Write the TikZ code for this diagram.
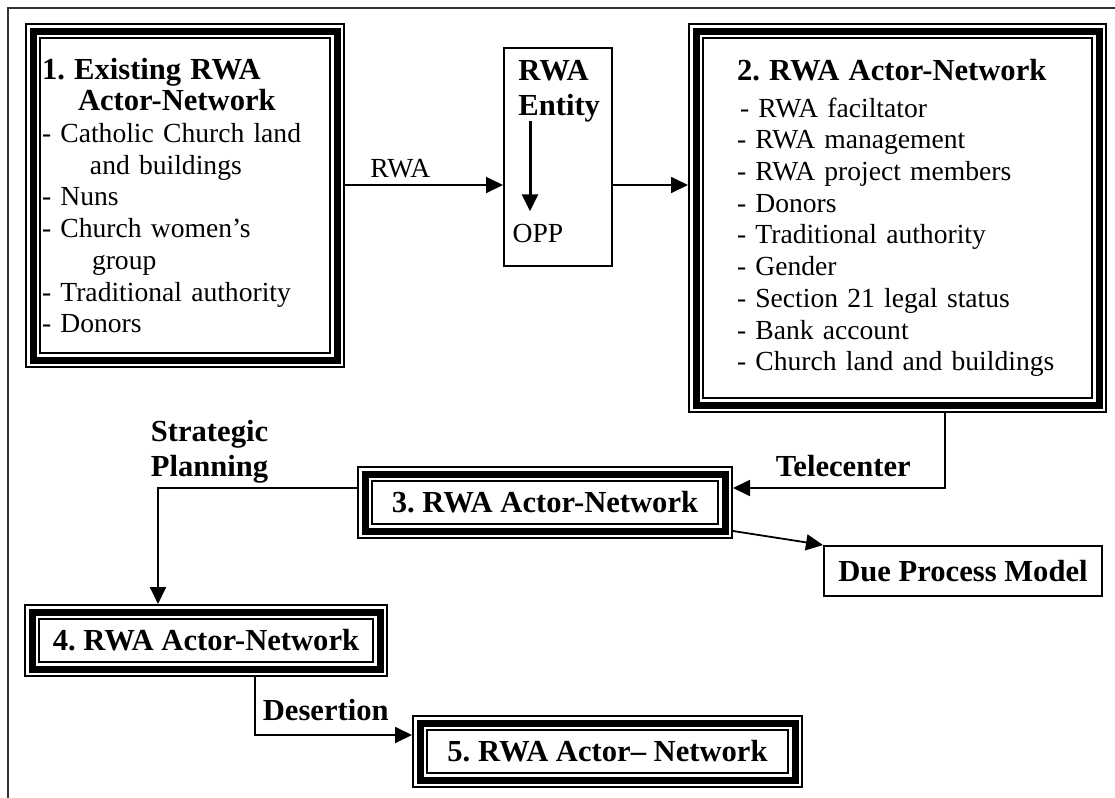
\documentclass[tikz,border=0pt]{standalone}
\usepackage{fontspec}
\setmainfont{Liberation Serif}
\usetikzlibrary{
  positioning,
  arrows.meta,
  calc
}
\definecolor{framegray}{HTML}{333333}
\newcommand{\hdfont}{\fontsize{15.3}{17.5}\selectfont\bfseries}
\newcommand{\bodyfont}{\fontsize{13.8}{15.85}\selectfont}
\frenchspacing

\begin{document}
\begin{tikzpicture}[
  x=0.5pt, y=-0.5pt,
  triple/.style={preaction={draw, line width=8pt}, preaction={draw=white, line width=6pt},
                 draw, line width=3.5pt, outer sep=4pt, inner sep=0pt, font=\hdfont},
  plain/.style={draw, line width=0.8pt},
  arr/.style={-{Triangle[length=8.5pt, width=8pt]}, line width=0.9pt},
  lbl/.style={inner sep=0pt, font=\bodyfont},
  blbl/.style={inner sep=0pt, font=\hdfont}
]
  \useasboundingbox (0,0) rectangle (1115,798);
  \draw[framegray, line width=1pt] (1115,8) -- (8,8) -- (8,798);

  \node[triple, minimum width=152pt, minimum height=164.5pt, text width=143pt,
        inner xsep=4.5pt, align=left, font=\bodyfont] (ean) at (185,195.5) {
    {\hdfont 1. Existing RWA}\\
    {\hdfont\hspace*{18pt}Actor-Network}\\
    - Catholic Church land\\
    \hspace*{24pt}and buildings\\
    - Nuns\\
    - Church women's\\
    \hspace*{25pt}group\\
    - Traditional authority\\
    - Donors
  };

  \node[plain, minimum width=54.2pt, minimum height=109.2pt] (ent) at (558,157) {};
  \node[blbl, anchor=north west, align=left] (entlbl) at (518,60) {RWA\\Entity};
  \node[lbl] (opp) at (538,233) {OPP};

  \node[triple, minimum width=201.5pt, minimum height=187pt, text width=160.5pt,
        inner xsep=20.5pt, align=left, font=\bodyfont] (an2) at (897.5,218) {
    {\hdfont 2. RWA Actor-Network}\\[2.5pt]
    \hspace*{1.5pt}- RWA faciltator\\
    - RWA management\\
    - RWA project members\\
    - Donors\\
    - Traditional authority\\
    - Gender\\
    - Section 21 legal status\\
    - Bank account\\
    - Church land and buildings
  };

  \node[triple, minimum width=180pt, minimum height=28.5pt] (an3) at (545,502.5) {3. RWA Actor-Network};
  \node[plain, minimum width=139.2pt, minimum height=25.2pt, font=\hdfont] (dpm) at (963,571) {Due Process Model};
  \node[triple, minimum width=174pt, minimum height=28.5pt] (an4) at (206,640.5) {4. RWA Actor-Network};
  \node[triple, minimum width=187.5pt, minimum height=28.5pt] (an5) at (607.5,751.5) {5. RWA Actor-- Network};

  \coordinate (rwal) at (0,185);
  \coordinate (telc) at (945,488);
  \coordinate (strc) at (158,488);
  \coordinate (desc) at (255,735);

  \draw[arr] (ean.east |- rwal) -- (ent.west |- rwal)
    node[pos=0.35, above=3pt, lbl] {RWA};
  \draw[arr] (ent.east |- rwal) -- (an2.west |- rwal);
  \draw[arr, line width=1.5pt] ([xshift=-4pt, yshift=1pt]opp.north |- entlbl.south)
    -- ([xshift=-4pt, yshift=6pt]opp.north);

  \draw[arr] (an2.south -| telc) |- (an3.east |- telc)
    node[pos=0.74, above=5pt, blbl] {Telecenter};
  \draw[arr] ([yshift=4pt]an3.south east) -- (dpm.north west);
  \draw[arr] (an3.west |- strc) -| (an4.north -| strc)
    node[pos=0.5, anchor=south west, xshift=-4pt, yshift=2pt, blbl, align=left] {Strategic\\Planning};
  \draw[arr] (an4.south -| desc) |- (an5.west |- desc)
    node[pos=0.5, anchor=south west, xshift=3.5pt, yshift=6.5pt, blbl] {Desertion};
\end{tikzpicture}
\end{document}
